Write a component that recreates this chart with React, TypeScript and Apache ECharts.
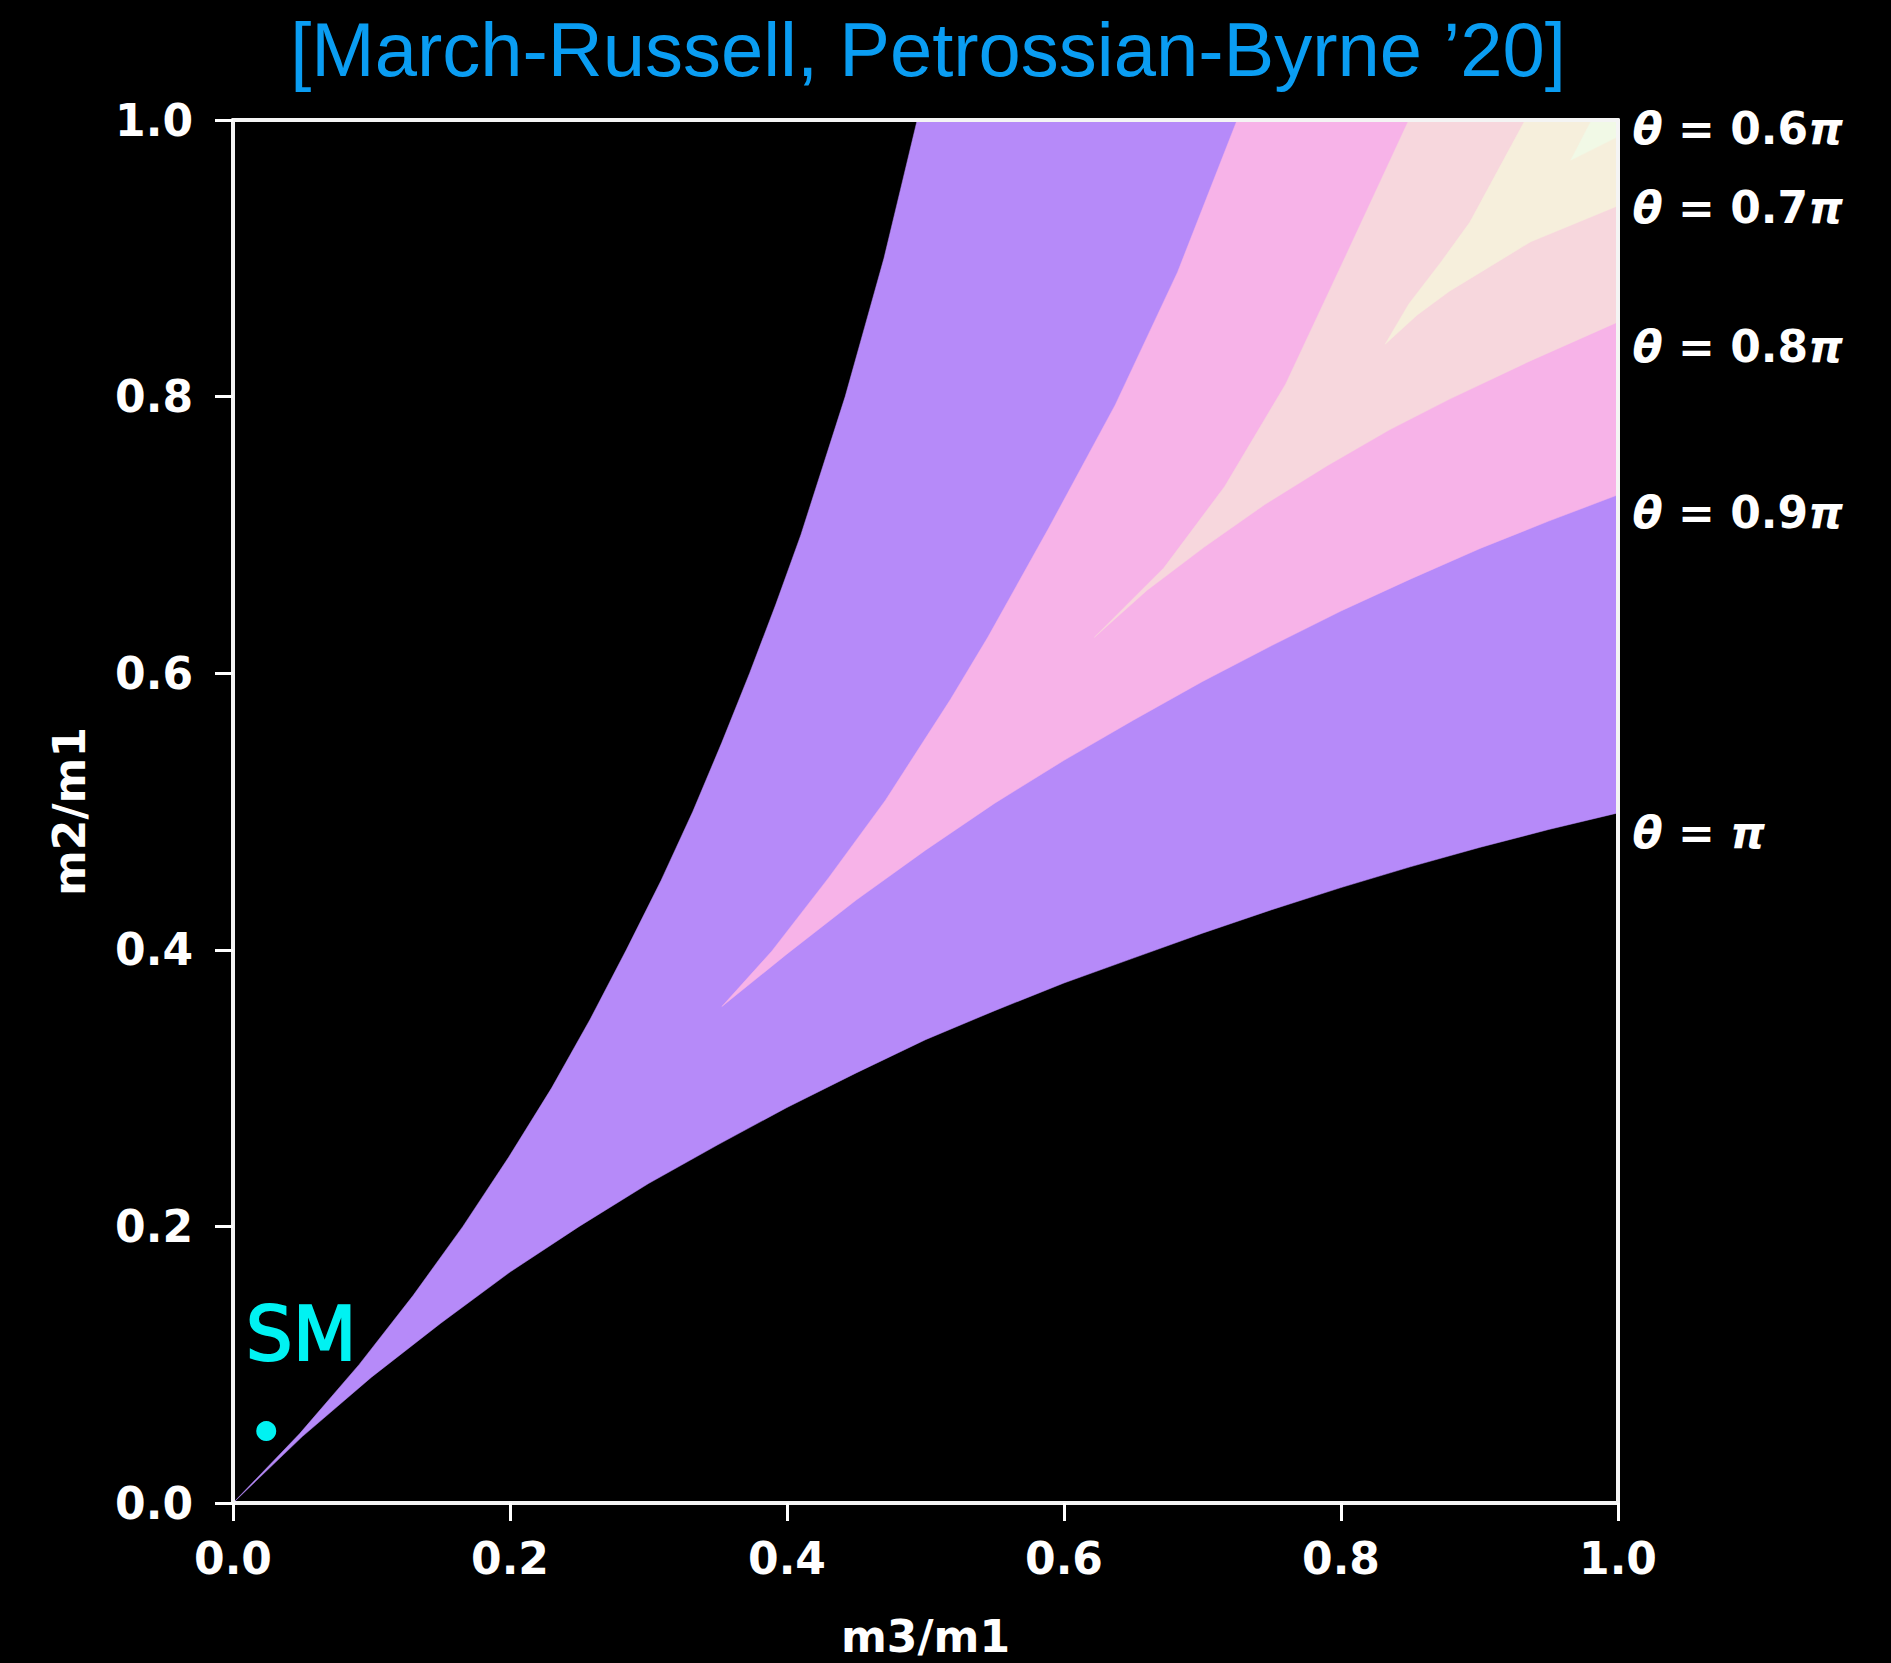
import React, { useEffect, useRef } from "react";
import * as echarts from "echarts";

// ---- data (m3/m1 on x, m2/m1 on y) ----
const TITLE = "[March-Russell, Petrossian-Byrne \u201920]";
const X_NAME = "m3/m1";
const Y_NAME = "m2/m1";

// outer edge of the allowed region (black / purple), upper-left branch
const OUTER_UPPER: number[][] = [
  [0, 0], [0.048, 0.05], [0.091, 0.1], [0.13, 0.15], [0.166, 0.2], [0.199, 0.25],
  [0.23, 0.3], [0.258, 0.35], [0.284, 0.4], [0.309, 0.45], [0.332, 0.5], [0.353, 0.55],
  [0.373, 0.6], [0.392, 0.65], [0.41, 0.7], [0.426, 0.75], [0.442, 0.8], [0.456, 0.85],
  [0.47, 0.9], [0.482, 0.95], [0.494, 1.0],
];
// outer edge, lower-right branch
const OUTER_LOWER: number[][] = [
  [0, 0], [0.05, 0.048], [0.1, 0.091], [0.15, 0.13], [0.2, 0.167], [0.25, 0.2],
  [0.3, 0.231], [0.35, 0.259], [0.4, 0.286], [0.45, 0.311], [0.5, 0.335], [0.55, 0.356],
  [0.6, 0.376], [0.65, 0.394], [0.7, 0.412], [0.75, 0.429], [0.8, 0.445], [0.85, 0.46],
  [0.9, 0.474], [0.95, 0.487], [1.0, 0.499],
];
// theta = 0.9 pi contour
const C09_UPPER: number[][] = [
  [0.353, 0.359], [0.389, 0.399], [0.43, 0.452], [0.471, 0.508], [0.518, 0.581],
  [0.545, 0.626], [0.589, 0.705], [0.637, 0.794], [0.682, 0.89], [0.725, 1.0],
];
const C09_LOWER: number[][] = [
  [0.353, 0.359], [0.4, 0.397], [0.45, 0.436], [0.5, 0.472], [0.55, 0.506], [0.6, 0.537],
  [0.65, 0.566], [0.7, 0.594], [0.75, 0.62], [0.8, 0.645], [0.85, 0.668], [0.9, 0.69],
  [0.95, 0.71], [1.0, 0.729],
];
// theta = 0.8 pi contour
const C08_UPPER: number[][] = [
  [0.622, 0.626], [0.672, 0.676], [0.716, 0.735], [0.76, 0.809], [0.804, 0.903], [0.849, 1.0],
];
const C08_LOWER: number[][] = [
  [0.622, 0.626], [0.66, 0.66], [0.701, 0.691], [0.745, 0.722], [0.79, 0.75], [0.835, 0.776],
  [0.878, 0.798], [0.937, 0.826], [1.0, 0.854],
];
// theta = 0.7 pi contour
const C07_UPPER: number[][] = [[0.832, 0.838], [0.849, 0.867], [0.872, 0.897], [0.893, 0.926], [0.933, 1.0]];
const C07_LOWER: number[][] = [[0.832, 0.838], [0.855, 0.859], [0.878, 0.876], [0.937, 0.912], [1.0, 0.938]];
// theta = 0.6 pi contour
const C06_UPPER: number[][] = [[0.966, 0.971], [0.981, 1.0]];
const C06_LOWER: number[][] = [[0.966, 0.971], [1.0, 0.988]];
const CORNER = [1, 1];

const BAND_COLORS = ["#B68AF9", "#F7B3E8", "#F7D7DD", "#F6EFDC", "#F1F9E6"];

const THETA_TEXT = ["0.6", "0.7", "0.8", "0.9", ""];
const THETA_Y = [0.994, 0.937, 0.836, 0.716, 0.485];

const SM_POINT = [0.024, 0.052];
const TICK_INTERVAL = 0.2;

function band(upper: number[][], lower: number[][]): number[][] {
  return [...upper, CORNER, ...lower.slice().reverse()];
}

const BANDS = [
  band(OUTER_UPPER, OUTER_LOWER),
  band(C09_UPPER, C09_LOWER),
  band(C08_UPPER, C08_LOWER),
  band(C07_UPPER, C07_LOWER),
  band(C06_UPPER, C06_LOWER),
];

const FONT = "DejaVu Sans";

export default function App() {
  const ref = useRef<HTMLDivElement>(null);
  useEffect(() => {
    if (!ref.current) return;
    const chart = echarts.init(ref.current, undefined, { renderer: "svg" });
    const white = "#ffffff";
    const axisCommon = {
      type: "value" as const,
      min: 0,
      max: 1,
      interval: TICK_INTERVAL,
      splitLine: { show: false },
      z: 10,
    };
    const labelStyle = {
      color: white,
      fontSize: 44,
      fontWeight: "bold" as const,
      fontFamily: FONT,
      showMinLabel: true,
      showMaxLabel: true,
      formatter: (v: number) => v.toFixed(1),
    };
    const nameStyle = {
      color: white,
      fontSize: 44,
      lineHeight: 44,
      fontWeight: "bold" as const,
      fontFamily: FONT,
    };
    const lineStyle = { color: "#f4f4f4", width: 4 };
    chart.setOption({
      animation: false,
      backgroundColor: "#000000",
      grid: { left: 233, top: 120, width: 1385, height: 1385, containLabel: false },
      graphic: [
        {
          type: "text",
          x: 928,
          y: 49,
          style: {
            text: TITLE,
            fill: "#0A9DF2",
            fontSize: 76,
            fontFamily: "Liberation Sans",
            fontWeight: "normal",
            textAlign: "center",
            textVerticalAlign: "middle",
          },
        },
      ],
      xAxis: [
        {
          ...axisCommon,
          position: "bottom",
          axisLine: { show: true, onZero: false, lineStyle },
          axisTick: { show: true, length: 18, lineStyle: { color: white, width: 3 } },
          axisLabel: { ...labelStyle, margin: 33 },
          name: X_NAME,
          nameLocation: "middle",
          nameGap: 111,
          nameTextStyle: nameStyle,
        },
        {
          ...axisCommon,
          position: "top",
          axisLine: { show: true, onZero: false, lineStyle },
          axisTick: { show: false },
          axisLabel: { show: false },
        },
      ],
      yAxis: [
        {
          ...axisCommon,
          position: "left",
          axisLine: { show: true, onZero: false, lineStyle },
          axisTick: { show: true, length: 18, lineStyle: { color: white, width: 3 } },
          axisLabel: { ...labelStyle, margin: 40 },
          name: Y_NAME,
          nameLocation: "middle",
          nameGap: 142,
          nameTextStyle: nameStyle,
        },
        {
          ...axisCommon,
          position: "right",
          axisLine: { show: true, onZero: false, lineStyle },
          axisTick: { show: false },
          axisLabel: { show: false },
        },
      ],
      series: [
        {
          type: "custom",
          xAxisIndex: 0,
          yAxisIndex: 0,
          silent: true,
          data: BANDS.map((b, i) => [b[0][0], b[0][1], i]),
          encode: { x: 0, y: 1 },
          renderItem: (_params: any, api: any) => {
            const idx = api.value(2) as number;
            const pts = BANDS[idx].map((p) => api.coord(p));
            return {
              type: "polygon",
              shape: { points: pts },
              style: { fill: BAND_COLORS[idx], stroke: BAND_COLORS[idx], lineWidth: 0.5 },
            };
          },
          z: 2,
        },
        {
          type: "scatter",
          xAxisIndex: 0,
          yAxisIndex: 0,
          data: [SM_POINT],
          symbolSize: 20,
          itemStyle: { color: "#00F2F2", opacity: 1 },
          label: {
            show: true,
            formatter: "SM",
            position: "inside",
            offset: [35, -97],
            color: "#00F2F2",
            fontSize: 74,
            fontFamily: FONT,
            textBorderColor: "#00F2F2",
            textBorderWidth: 2,
          },
          silent: true,
          z: 5,
        },
        {
          type: "scatter",
          xAxisIndex: 0,
          yAxisIndex: 0,
          data: THETA_Y.map((y) => [1, y]),
          symbolSize: 1,
          itemStyle: { color: "rgba(0,0,0,0)", opacity: 1 },
          clip: false,
          silent: true,
          label: {
            show: true,
            position: "right",
            distance: 14,
            formatter: (p: any) => {
              const t = THETA_TEXT[p.dataIndex];
              return "{i|\u03B8}{n| = " + t + "}{i|\u03C0}";
            },
            rich: {
              i: { color: white, fontSize: 44, fontWeight: "bold", fontStyle: "italic", fontFamily: FONT },
              n: { color: white, fontSize: 44, fontWeight: "bold", fontFamily: FONT },
            },
          },
          z: 6,
        },
      ],
    });
    return () => chart.dispose();
  }, []);
  return (
    <div
      ref={ref}
      style={{ position: "absolute", left: 0, top: 0, width: 1891, height: 1663, background: "#000" }}
    />
  );
}
